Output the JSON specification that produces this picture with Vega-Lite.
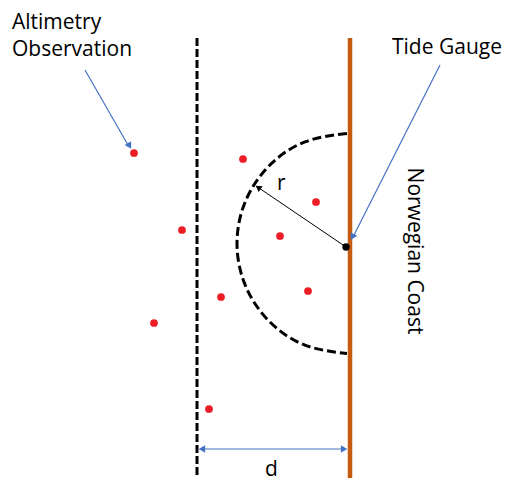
{
  "$schema": "https://vega.github.io/schema/vega-lite/v6.json",
  "width": 507,
  "height": 481,
  "padding": 0,
  "autosize": {"type": "fit", "contains": "padding"},
  "background": "white",
  "config": {"view": {"stroke": null}},
  "encoding": {
    "x": {"field": "x", "type": "quantitative", "scale": {"domain": [0, 507], "nice": false, "zero": false}, "axis": null},
    "y": {"field": "y", "type": "quantitative", "scale": {"domain": [0, 481], "nice": false, "zero": false, "reverse": true}, "axis": null}
  },
  "layer": [
    {
      "data": {"values": [{"x": 197, "y": 38, "x2": 197, "y2": 478}]},
      "mark": {"type": "rule", "color": "black", "strokeWidth": 3, "strokeDash": [8, 3]},
      "encoding": {"x2": {"field": "x2"}, "y2": {"field": "y2"}}
    },
    {
      "data": {"values": [{"x": 350, "y": 38, "x2": 350, "y2": 478}]},
      "mark": {"type": "rule", "color": "#C55A11", "strokeWidth": 4.5},
      "encoding": {"x2": {"field": "x2"}, "y2": {"field": "y2"}}
    },
    {
      "data": {"values": [
        {"i": 0, "x": 347, "y": 133.5},
        {"i": 1, "x": 304.9, "y": 141.9},
        {"i": 2, "x": 269.2, "y": 165.7},
        {"i": 3, "x": 245.4, "y": 201.4},
        {"i": 4, "x": 237, "y": 243.5},
        {"i": 5, "x": 245.4, "y": 285.6},
        {"i": 6, "x": 269.2, "y": 321.3},
        {"i": 7, "x": 304.9, "y": 345.1},
        {"i": 8, "x": 347, "y": 353.5}
      ]},
      "mark": {"type": "line", "color": "black", "strokeWidth": 3, "strokeDash": [9, 4], "interpolate": "natural"},
      "encoding": {"order": {"field": "i", "type": "quantitative"}}
    },
    {
      "data": {"values": [
        {"x": 85, "y": 70, "x2": 128, "y2": 145},
        {"x": 440, "y": 65, "x2": 354, "y2": 235},
        {"x": 202, "y": 449, "x2": 344, "y2": 449}
      ]},
      "mark": {"type": "rule", "color": "#4472C4", "strokeWidth": 1.2},
      "encoding": {"x2": {"field": "x2"}, "y2": {"field": "y2"}}
    },
    {
      "data": {"values": [
        {"x": 129, "y": 145, "a": 150},
        {"x": 353, "y": 236, "a": 207},
        {"x": 203, "y": 449, "a": 270},
        {"x": 343, "y": 449, "a": 90}
      ]},
      "mark": {"type": "point", "shape": "triangle", "filled": true, "color": "#4472C4", "size": 55, "opacity": 1},
      "encoding": {"angle": {"field": "a", "type": "quantitative", "scale": null}}
    },
    {
      "data": {"values": [{"x": 346, "y": 247, "x2": 259, "y2": 188}]},
      "mark": {"type": "rule", "color": "black", "strokeWidth": 1},
      "encoding": {"x2": {"field": "x2"}, "y2": {"field": "y2"}}
    },
    {
      "data": {"values": [{"x": 259, "y": 188, "a": 304}]},
      "mark": {"type": "point", "shape": "triangle", "filled": true, "color": "black", "size": 50, "opacity": 1},
      "encoding": {"angle": {"field": "a", "type": "quantitative", "scale": null}}
    },
    {
      "data": {"values": [{"x": 346, "y": 247}]},
      "mark": {"type": "circle", "color": "black", "size": 55, "opacity": 1}
    },
    {
      "data": {"values": [
        {"x": 134, "y": 153}, {"x": 243, "y": 159}, {"x": 316, "y": 202},
        {"x": 182, "y": 230}, {"x": 280, "y": 236}, {"x": 308, "y": 291},
        {"x": 221, "y": 297}, {"x": 154, "y": 323}, {"x": 209, "y": 409}
      ]},
      "mark": {"type": "circle", "color": "#EE1C25", "size": 60, "opacity": 1}
    },
    {
      "data": {"values": [
        {"x": 12, "y": 29, "t": "Altimetry"},
        {"x": 12, "y": 56, "t": "Observation"},
        {"x": 392, "y": 54, "t": "Tide Gauge"},
        {"x": 277, "y": 190, "t": "r"},
        {"x": 265, "y": 476, "t": "d"}
      ]},
      "mark": {"type": "text", "align": "left", "baseline": "alphabetic", "font": "Open Sans", "fontSize": 21, "color": "black"},
      "encoding": {"text": {"field": "t"}}
    },
    {
      "data": {"values": [{"x": 408, "y": 251, "t": "Norwegian Coast"}]},
      "mark": {"type": "text", "align": "center", "baseline": "alphabetic", "font": "Open Sans", "fontSize": 21, "angle": 90, "color": "black"},
      "encoding": {"text": {"field": "t"}}
    }
  ]
}
